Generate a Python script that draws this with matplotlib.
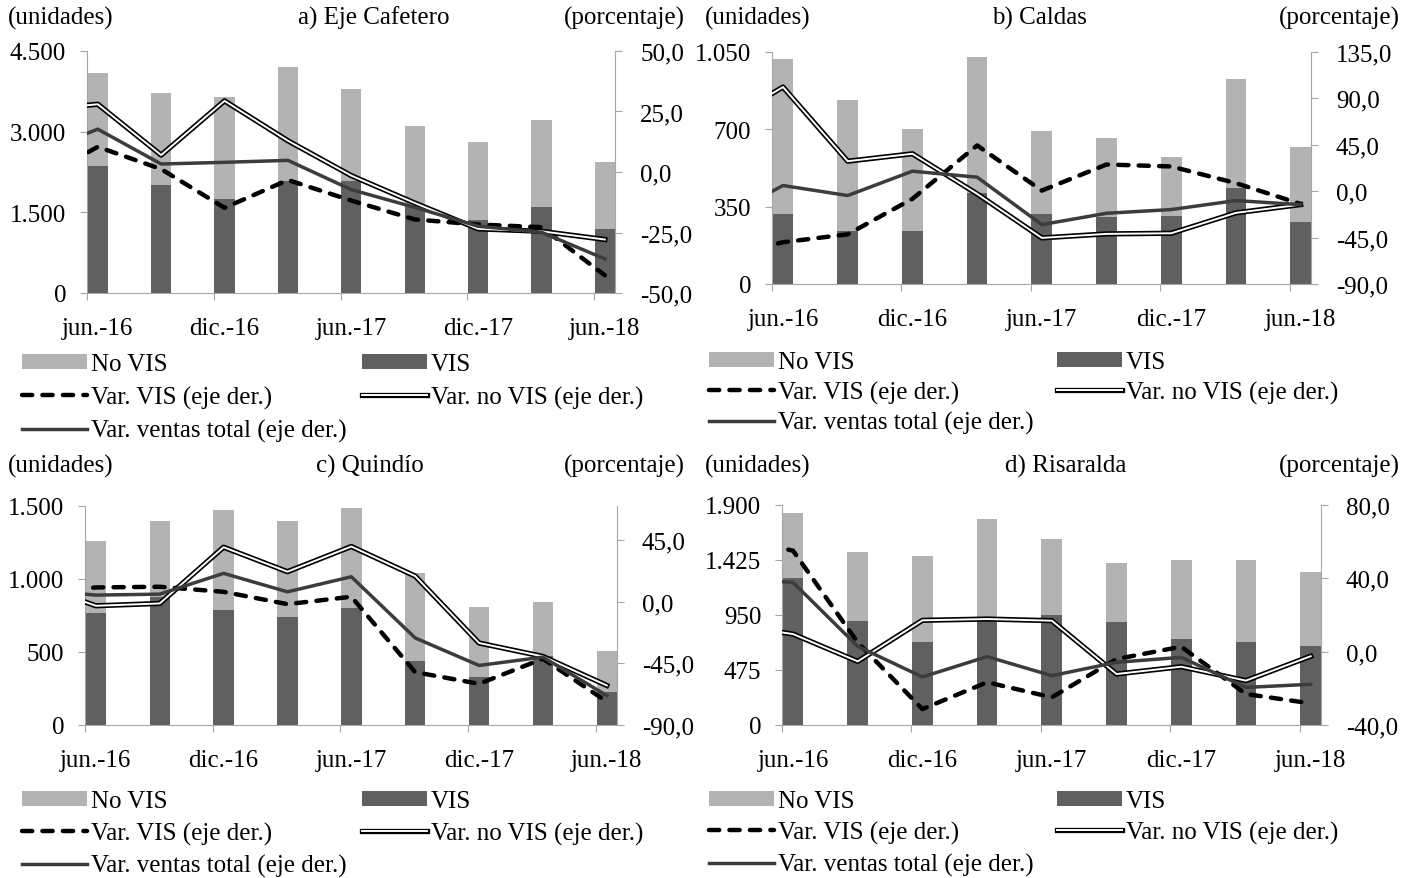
import matplotlib
matplotlib.use('Agg')
import matplotlib.pyplot as plt
import matplotlib.patheffects as pe
from matplotlib.patches import Patch
from matplotlib.lines import Line2D
from matplotlib.ticker import FuncFormatter
import numpy as np

plt.rcParams['font.family'] = ['Liberation Serif', 'DejaVu Serif']

# ---------------- data ----------------
periods = ['jun.-16', 'sep.-16', 'dic.-16', 'mar.-17', 'jun.-17',
           'sep.-17', 'dic.-17', 'mar.-18', 'jun.-18']
# line series start one quarter earlier (mar.-16); that point lies outside the plot area
line_periods = ['mar.-16'] + periods
tick_labels = ['jun.-16', 'dic.-16', 'jun.-17', 'dic.-17', 'jun.-18']

# a) Eje Cafetero
a_vis = [2355, 2009, 1743, 2080, 2089, 1626, 1366, 1601, 1193]
a_novis = [1743, 1712, 1910, 2117, 1700, 1483, 1434, 1607, 1236]
a_var_vis = [-4.0, 10.4, 1.2, -14.8, -3.3, -11.8, -19.6, -21.7, -22.8, -42.7]
a_var_novis = [25.5, 28.0, 7.0, 29.4, 12.9, -1.5, -12.8, -23.5, -24.5, -27.9]
a_var_total = [7.5, 17.7, 3.3, 4.0, 4.8, -7.3, -14.6, -22.4, -24.9, -35.9]

# b) Caldas
b_vis = [317, 240, 240, 411, 317, 301, 308, 434, 282]
b_novis = [700, 595, 462, 615, 376, 359, 269, 493, 336]
b_var_vis = [-64.5, -49.5, -41.8, -7.4, 44.4, 0.6, 25.9, 24.0, 7.8, -12.3]
b_var_novis = [64.0, 101.0, 29.1, 36.3, -2.6, -45.3, -41.4, -40.8, -21.0, -13.0]
b_var_total = [-28.0, 5.5, -4.2, 19.4, 13.6, -32.4, -21.4, -17.8, -9.1, -13.0]

# c) Quindío
c_vis = [766, 880, 791, 741, 802, 440, 326, 470, 223]
c_novis = [492, 517, 679, 656, 682, 604, 479, 371, 281]
c_var_vis = [6.4, 10.5, 11.0, 7.3, -1.7, 3.7, -51.4, -59.9, -41.6, -72.9]
c_var_novis = [13.7, -2.9, -1.2, 39.9, 22.0, 40.4, 18.8, -30.1, -39.9, -61.1]
c_var_total = [9.0, 4.9, 5.6, 20.8, 7.3, 18.3, -26.4, -46.5, -40.4, -68.5]

# d) Risaralda
d_vis = [1269, 901, 714, 930, 953, 889, 743, 714, 685]
d_novis = [559, 590, 743, 849, 653, 510, 685, 714, 633]
d_var_vis = [62.6, 55.1, 5.0, -31.3, -16.7, -24.9, -4.0, 2.7, -23.1, -28.2]
d_var_novis = [14.9, 9.6, -5.3, 17.1, 17.8, 16.9, -12.2, -8.2, -15.8, -2.5]
d_var_total = [39.9, 37.8, 2.9, -13.8, -2.7, -13.1, -5.8, -3.1, -19.5, -17.8]

titles = ['a) Eje Cafetero', 'b) Caldas', 'c) Quindío', 'd) Risaralda']
legend_labels = ['No VIS', 'VIS', 'Var. VIS (eje der.)', 'Var. no VIS (eje der.)',
                 'Var. ventas total (eje der.)']

# ---------------- style ----------------
W, H = 1406, 879
C_VIS = '#606060'
C_NOVIS = '#b3b3b3'
C_TOTAL = '#3c3c3c'
C_AXIS = '#a6a6a6'
FS = 18
LFS = 18

fig = plt.figure(figsize=(W / 100, H / 100), dpi=100)


def px_axes(l, r, t, b):
    return fig.add_axes([l / W, 1 - b / H, (r - l) / W, (b - t) / H])


def left_fmt(v, pos):
    return f"{int(round(v)):,}".replace(',', '.')


def right_fmt(v, pos):
    return f"{v:.1f}".replace('.', ',')


double_fx = [pe.Stroke(linewidth=3.8, foreground='black'), pe.Normal()]

panels = [
    dict(box=(87, 615, 52, 294), vis=a_vis, novis=a_novis, vv=a_var_vis, vn=a_var_novis,
         vt=a_var_total, lmax=4500, lstep=1500, rlim=(-50, 50), rstep=25,
         hx=(8, 374, 685), hy=18, lgx=(22, 362), lgy=354, ls=0.42),
    dict(box=(772, 1311, 53, 285), vis=b_vis, novis=b_novis, vv=b_var_vis, vn=b_var_novis,
         vt=b_var_total, lmax=1050, lstep=350, rlim=(-90, 135), rstep=45,
         hx=(705, 1039, 1400), hy=18, lgx=(709, 1057), lgy=352, ls=0.3),
    dict(box=(85, 617, 507, 726), vis=c_vis, novis=c_novis, vv=c_var_vis, vn=c_var_novis,
         vt=c_var_total, lmax=1500, lstep=500, rlim=(-90, 70), rstep=45,
         hx=(8, 370, 685), hy=466, lgx=(22, 362), lgy=791, ls=0.38),
    dict(box=(782, 1321, 506, 726), vis=d_vis, novis=d_novis, vv=d_var_vis, vn=d_var_novis,
         vt=d_var_total, lmax=1900, lstep=475, rlim=(-40, 80), rstep=40,
         hx=(705, 1066, 1400), hy=466, lgx=(709, 1057), lgy=791, ls=0.36),
]

x = np.arange(len(periods))
xl = np.arange(len(line_periods)) - 1

for p, title in zip(panels, titles):
    ax = px_axes(*p['box'])
    ax.bar(x, p['vis'], width=0.32, color=C_VIS, zorder=2)
    ax.bar(x, p['novis'], bottom=p['vis'], width=0.32, color=C_NOVIS, zorder=2)
    ax.set_ylim(0, p['lmax'])
    ax.set_yticks(np.arange(0, p['lmax'] + 1, p['lstep']))
    ax.yaxis.set_major_formatter(FuncFormatter(left_fmt))
    ax.set_xlim(-0.17, 8.16)
    ax.set_xticks([i - 0.17 for i in range(0, 9, 2)])
    ax.set_xticklabels([])
    ax.set_xticks(range(0, 9, 2), minor=True)
    ax.set_xticklabels(tick_labels, minor=True)
    ax.tick_params(axis='x', which='major', length=5, color=C_AXIS)
    ax.tick_params(axis='x', which='minor', length=0, labelsize=FS, pad=17)
    ax.tick_params(axis='y', length=5, color=C_AXIS, labelsize=FS, pad=10)
    for s in ('top', 'right'):
        ax.spines[s].set_visible(False)
    for s in ('left', 'bottom'):
        ax.spines[s].set_color(C_AXIS)

    ax2 = ax.twinx()
    ax2.plot(xl, p['vv'], color='black', lw=3.2, ls=(0, (2.3, 2.3)),
             dash_capstyle='round', zorder=3)
    ax2.plot(xl, p['vn'], color='white', lw=1.4, path_effects=double_fx, zorder=4)
    ax2.plot(xl, p['vt'], color=C_TOTAL, lw=2.5, zorder=5)
    ax2.set_ylim(*p['rlim'])
    ax2.set_yticks(np.arange(p['rlim'][0], p['rlim'][1] + 0.1, p['rstep']))
    ax2.yaxis.set_major_formatter(FuncFormatter(right_fmt))
    ax2.tick_params(axis='y', length=5, color=C_AXIS, labelsize=FS, pad=13)
    for s in ('top', 'left', 'bottom'):
        ax2.spines[s].set_visible(False)
    ax2.spines['right'].set_color(C_AXIS)
    ax2.set_xlim(-0.17, 8.16)

    hx0, hx1, hx2 = p['hx']
    yy = 1 - p['hy'] / H
    fig.text(hx0 / W, yy, '(unidades)', ha='left', va='center', fontsize=FS)
    fig.text(hx1 / W, yy, title, ha='center', va='center', fontsize=FS)
    fig.text(hx2 / W, yy, '(porcentaje)', ha='right', va='center', fontsize=FS)

    h_novis = Patch(facecolor=C_NOVIS)
    h_vis = Patch(facecolor=C_VIS)
    h_vv = Line2D([], [], color='black', lw=3.2, ls=(0, (2.3, 2.3)), dash_capstyle='round')
    h_vn = Line2D([], [], color='white', lw=1.4, path_effects=double_fx)
    h_vt = Line2D([], [], color=C_TOTAL, lw=2.5)
    common = dict(loc='upper left', frameon=False, borderpad=0, borderaxespad=0,
                  handlelength=2.6, handletextpad=0.15, labelspacing=p['ls'],
                  fontsize=LFS, handleheight=0.55)
    fig.legend([h_novis, h_vv, h_vt], [legend_labels[0], legend_labels[2], legend_labels[4]],
               bbox_to_anchor=(p['lgx'][0] / W, 1 - p['lgy'] / H), **common)
    fig.legend([h_vis, h_vn], [legend_labels[1], legend_labels[3]],
               bbox_to_anchor=(p['lgx'][1] / W, 1 - p['lgy'] / H), **common)

fig.savefig('out.png', dpi=100)
